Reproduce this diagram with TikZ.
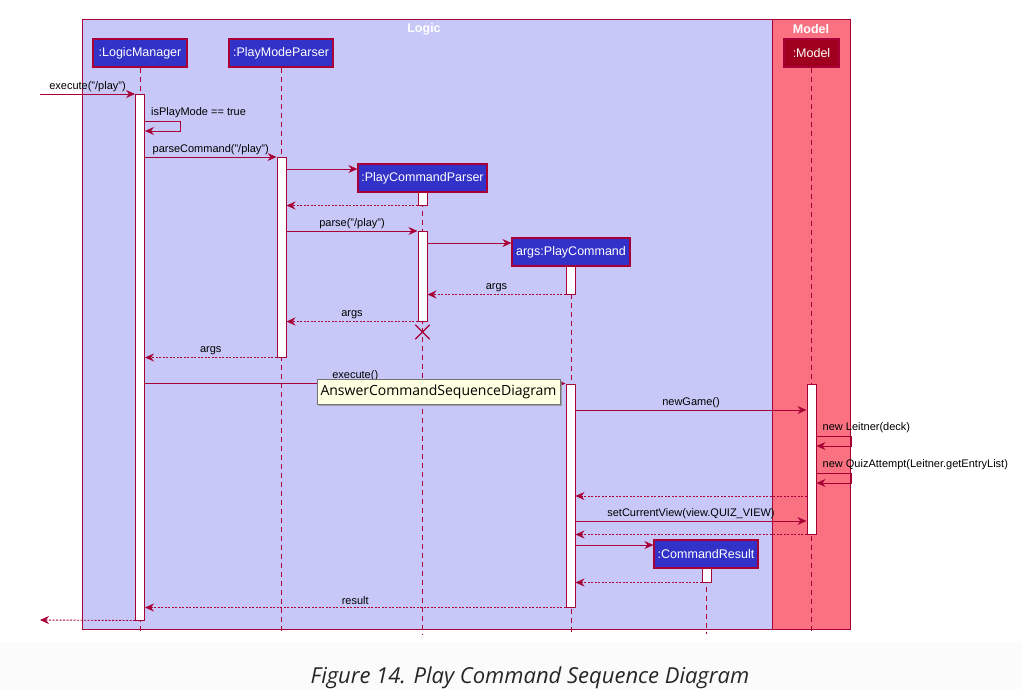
\documentclass[tikz,border=0pt]{standalone}
\usepackage{fontspec}
\setmainfont{Liberation Sans}
\newfontfamily\uifont{Open Sans}
\usepackage{tikz}
\usetikzlibrary{positioning,arrows.meta,calc,shadows,shapes.misc}

\definecolor{umlred}{HTML}{A80036}
\definecolor{logicbg}{HTML}{C8C8F8}
\definecolor{modelbg}{HTML}{FA7282}
\definecolor{partblue}{HTML}{3232C8}
\definecolor{modeldark}{HTML}{A0001E}
\definecolor{tipbg}{HTML}{FFFFE1}
\definecolor{pagegray}{HTML}{FBFBFB}

\begin{document}
\begin{tikzpicture}[
    x=1pt,
    y=-1pt,
    font=\fontsize{11}{13}\selectfont,
    grp/.style={draw=umlred, line width=1pt},
    part/.style={
        rectangle,
        draw=umlred,
        line width=1.2pt,
        fill=partblue,
        text=white,
        minimum height=28pt,
        inner xsep=2pt,
        font=\fontsize{12.5}{14}\selectfont
      },
    actbar/.style={rectangle, draw=umlred, line width=1pt, fill=white, minimum width=9pt, inner sep=0pt},
    lifeline/.style={draw=umlred, dash pattern=on 5pt off 4pt, line width=0.8pt},
    msg/.style={draw=umlred, line width=0.9pt, -{Stealth[length=9pt,width=8pt,inset=3pt]}},
    ret/.style={msg, dash pattern=on 2pt off 1.5pt},
    lbl/.style={inner sep=1pt, above=1pt}
    ]

    % page
    \useasboundingbox (0,0) rectangle (1022,689);
    \fill[white] (0,0) rectangle (1022,689);
    \fill[pagegray] (0,643) rectangle (1022,689);

    % boxes
    \draw[grp, fill=logicbg] (82,19) rectangle (772,629);
    \draw[grp, fill=modelbg] (772,19) rectangle (850,629);
    \node[text=white, font=\bfseries\fontsize{12.5}{14}\selectfont] (logicT) at (424,29) {Logic};
    \node[text=white, font=\bfseries\fontsize{12.5}{14}\selectfont] (modelT) at (811,29) {Model};

    % participants
    \node[part, minimum width=94pt] (lm) at (140,53) {:LogicManager};
    \node[part, minimum width=104pt] (pm) at (281,53) {:PlayModeParser};
    \node[part, minimum width=129pt] (pcp) at (422.5,178) {:PlayCommandParser};
    \node[part, minimum width=118pt] (cmd) at (571,252) {args:PlayCommand};
    \node[part, minimum width=104pt] (cr) at (706,554) {:CommandResult};
    \node[part, minimum width=55pt, fill=modeldark] (md) at (811.5,53) {:Model};

    % lifelines
    \foreach \p in {lm,pm,pcp,cmd,cr,md}
      \draw[lifeline] (\p.south) -- (\p.south |- 0,634);

    % activations
    \node[actbar, minimum height=526pt] (lmA) at (140,357) {};
    \node[actbar, minimum height=200pt] (pmA) at (281.5,257) {};
    \node[actbar, minimum height=13pt] (pcA1) at (422.5,198.5) {};
    \node[actbar, minimum height=90pt] (pcA2) at (422.5,276) {};
    \node[actbar, minimum height=28pt] (cmdA1) at (570.5,280) {};
    \node[actbar, minimum height=223pt] (cmdA2) at (570.5,495.5) {};
    \node[actbar, minimum height=150pt] (mdA) at (811.5,459) {};
    \node[actbar, minimum height=14pt] (crA) at (706.5,575) {};

    \coordinate (inL) at (40,94);
    \coordinate (outL) at (40,620);

    % messages
    \draw[msg] (inL) -- node[lbl] {execute("/play")} (lmA.west |- inL);
    \draw[msg] (lmA.east |- 0,121) -- (180,121) -- (180,131) -- (lmA.east |- 0,131);
    \node[inner sep=1pt, anchor=south west] (selfL1) at ([xshift=5pt]lmA.east |- 0,119) {isPlayMode == true};
    \draw[msg] (lmA.east |- 0,157) -- node[lbl] {parseCommand("/play")} (pmA.west |- 0,157);
    \draw[msg] (pmA.east |- 0,169) -- (pcp.west |- 0,169);
    \draw[ret] (pcA1.south west) -- (pmA.east |- pcA1.south);
    \draw[msg] (pmA.east |- 0,231) -- node[lbl] {parse("/play")} (pcA2.west |- 0,231);
    \draw[msg] (pcA2.east |- 0,243) -- (cmd.west |- 0,243);
    \draw[ret] (cmdA1.south west) -- node[lbl] {args} (pcA2.east |- cmdA1.south);
    \draw[ret] (pcA2.south west) -- node[lbl] {args} (pmA.east |- pcA2.south);
    \node[draw=umlred, cross out, line width=1.3pt, minimum size=13pt, inner sep=0pt] (pcX) at (422.5,332) {};
    \draw[ret] (pmA.south west) -- node[lbl] {args} (lmA.east |- pmA.south);
    \draw[msg] (lmA.east |- cmdA2.north) -- node[lbl] {execute()} (cmdA2.north west);
    \draw[msg] (cmdA2.east |- 0,410) -- node[lbl] {newGame()} (mdA.west |- 0,410);
    \draw[msg] (mdA.east |- 0,436) -- (851,436) -- (851,446) -- (mdA.east |- 0,446);
    \node[inner sep=1pt, anchor=south west] (selfL2) at ([xshift=5pt]mdA.east |- 0,434) {new Leitner(deck)};
    \draw[msg] (mdA.east |- 0,473) -- (851,473) -- (851,483) -- (mdA.east |- 0,483);
    \node[inner sep=1pt, anchor=south west] (selfL3) at ([xshift=5pt]mdA.east |- 0,471) {new QuizAttempt(Leitner.getEntryList)};
    \draw[ret] (mdA.west |- 0,496) -- (cmdA2.east |- 0,496);
    \draw[msg] (cmdA2.east |- 0,521) -- node[lbl] {setCurrentView(view.QUIZ\_VIEW)} (mdA.west |- 0,521);
    \draw[ret] (mdA.south west) -- (cmdA2.east |- mdA.south);
    \draw[msg] (cmdA2.east |- 0,545) -- (cr.west |- 0,545);
    \draw[ret] (crA.south west) -- (cmdA2.east |- crA.south);
    \draw[ret] (cmdA2.south west) -- node[lbl] {result} (lmA.east |- cmdA2.south);
    \draw[ret] (lmA.south west) -- (outL);

    % tooltip
    \node[rectangle, draw=black!55, fill=tipbg, minimum width=243pt, minimum height=25pt, inner sep=0pt,
      font=\uifont\fontsize{14}{16}\selectfont,
      drop shadow={shadow xshift=2pt, shadow yshift=-2pt, fill=black!45, opacity=0.7}] (tip) at (438.5,391.5) {AnswerCommandSequenceDiagram};

    % caption
    \node[anchor=base, text=black!85, font=\uifont\itshape\fontsize{22}{24}\selectfont] (cap) at (530,683) {Figure 14. Play Command Sequence Diagram};

  \end{tikzpicture}
\end{document}
